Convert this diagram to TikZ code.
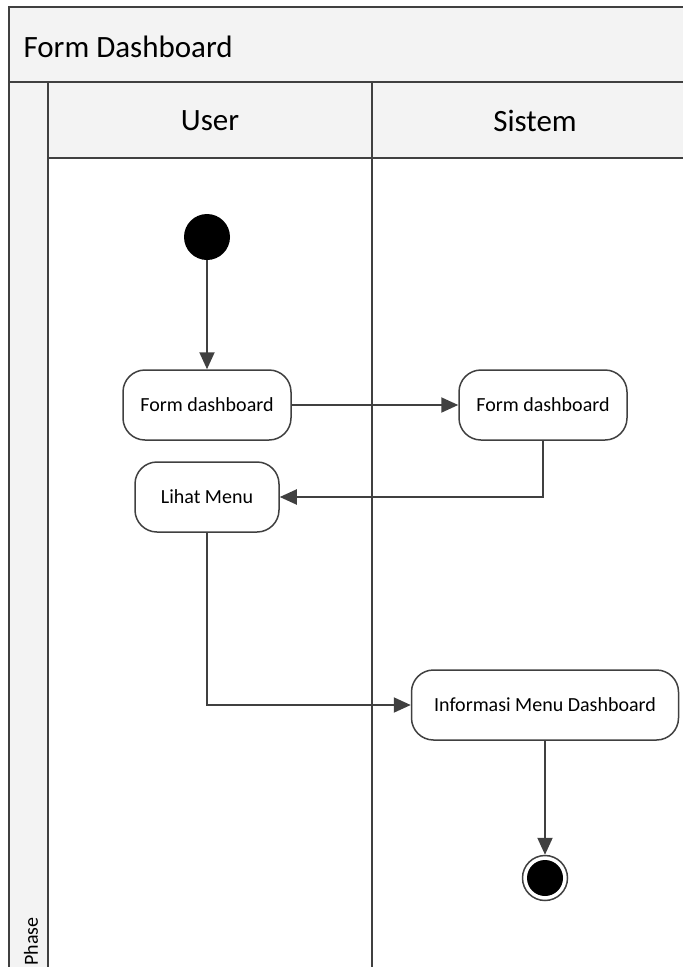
\documentclass[tikz,border=0pt]{standalone}
\usepackage{fontspec}
\setmainfont{Carlito}
\usepackage{xcolor}
\usepackage{tikz}
\usetikzlibrary{arrows.meta}
\usetikzlibrary{calc}
\definecolor{linegray}{HTML}{404040}
\definecolor{headgray}{HTML}{F3F3F3}
\tikzstyle{action} = [draw=linegray, line width=1.5pt, fill=white, rectangle, rounded corners=22pt, minimum height=70pt, inner sep=0pt, font=\fontsize{20}{24}\selectfont]
\tikzstyle{flow} = [draw=linegray, line width=2pt, -{Triangle[length=17pt, width=15pt]}]
\tikzstyle{frame} = [draw=linegray, line width=1.5pt]

\begin{document}
\begin{tikzpicture}[x=1pt, y=-1pt]
\useasboundingbox (0,0) rectangle (683,967);
\clip (0,0) rectangle (683,967);
% swimlane frame
\fill[headgray] (9,7) rectangle (700,82);
\fill[headgray] (48,82) rectangle (700,158);
\fill[headgray] (9,82) rectangle (48,980);
\draw[frame] (700,7) -- (9,7) -- (9,980);
\draw[frame] (9,82) -- (700,82);
\draw[frame] (48,82) -- (48,980);
\draw[frame] (48,158) -- (700,158);
\draw[frame] (372,82) -- (372,980);
\node[anchor=west, font=\fontsize{31}{36}\selectfont] (title) at (20,47) {Form Dashboard};
\node[font=\fontsize{31}{36}\selectfont] (user) at (210,121) {User};
\node[font=\fontsize{31}{36}\selectfont] (sistem) at (535,121) {Sistem};
\node[rotate=90, anchor=west, inner sep=1pt, font=\fontsize{20}{24}\selectfont] (phase) at (31,967) {Phase};
% activities
\node[circle, fill=black, minimum size=46pt, inner sep=0pt] (start) at (207,237) {};
\node[action, minimum width=168pt] (formU) at (207,405) {Form dashboard};
\node[action, minimum width=168pt] (formS) at (543,405) {Form dashboard};
\node[action, minimum width=144pt] (lihat) at (207,497) {Lihat Menu};
\node[action, minimum width=267pt] (info) at (545,705) {Informasi Menu Dashboard};
\node[circle, draw=linegray, line width=1.5pt, fill=white, minimum size=45pt, inner sep=0pt] (stop) at (545,878) {};
\node[circle, fill=black, minimum size=36pt, inner sep=0pt] (stopin) at (stop) {};
% flows
\draw[flow] (start) -- (formU);
\draw[flow] (formU) -- (formS);
\draw[flow] (formS.south) |- (lihat.east);
\draw[flow] (lihat.south) |- (info.west);
\draw[flow] (info) -- (stop);
\end{tikzpicture}
\end{document}
